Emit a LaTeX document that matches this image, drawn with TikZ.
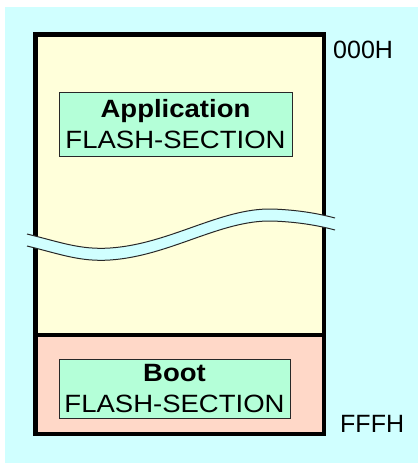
\documentclass[tikz,border=0pt]{standalone}
\usepackage{fontspec}
\setmainfont{Liberation Sans}
\newfontfamily\secfont[FakeStretch=1.1]{Liberation Sans}
\usepackage{tikz}
\usepackage{xcolor}
\definecolor{bgcyan}{RGB}{208,255,255}
\definecolor{appyellow}{RGB}{255,255,218}
\definecolor{bootpink}{RGB}{255,216,200}
\definecolor{secgreen}{RGB}{180,255,216}
\definecolor{ink}{RGB}{40,40,40}
\tikzset{
  frame/.style={line width=4.5pt,line join=miter},
  section/.style={draw=ink,line width=1pt,fill=secgreen,align=center,
    inner sep=0pt,font=\secfont\fontsize{25}{31}\selectfont},
  addr/.style={font=\fontsize{25}{30}\selectfont,inner sep=0pt,anchor=base west},
  wave/.style={draw=ink,line width=1pt},
}

\begin{document}
\begin{tikzpicture}[x=1pt,y=-1pt]
  \useasboundingbox (0,0) rectangle (418,463);
  \fill[white] (0,0) rectangle (418,463);
  \fill[bgcyan] (5,7) rectangle (418,463);
  % memory areas
  \fill[appyellow] (35.5,34.5) rectangle (324,335);
  \fill[bootpink] (35.5,335) rectangle (324,434);
  \draw[frame] (35.5,34.5) rectangle (324,434);
  \draw[frame] (35.5,335) -- (324,335);
  % break in the address range
  \fill[bgcyan] (27,234) .. controls (60,242) and (80,250) .. (110,248)
    .. controls (170,244) and (220,208) .. (272,209)
    .. controls (300,210) and (320,214) .. (335,218) -- (335,230)
    .. controls (320,226) and (300,222) .. (272,221)
    .. controls (220,220) and (170,256) .. (110,260)
    .. controls (80,262) and (60,254) .. (27,246) -- cycle;
  \draw[wave] (27,234) .. controls (60,242) and (80,250) .. (110,248)
    .. controls (170,244) and (220,208) .. (272,209)
    .. controls (300,210) and (320,214) .. (335,218);
  \draw[wave] (27,246) .. controls (60,254) and (80,262) .. (110,260)
    .. controls (170,256) and (220,220) .. (272,221)
    .. controls (300,222) and (320,226) .. (335,230);
  % sections
  \node[section,minimum width=233pt,minimum height=64pt] (app) at (175.5,124)
    {\textbf{Application}\\FLASH-SECTION};
  \node[section,minimum width=231pt,minimum height=59pt] (boot) at (174.5,388.5)
    {\textbf{Boot}\\FLASH-SECTION};
  % addresses
  \node[addr] (first) at (333,58) {000H};
  \node[addr] (last) at (340,432) {FFFH};
\end{tikzpicture}
\end{document}
